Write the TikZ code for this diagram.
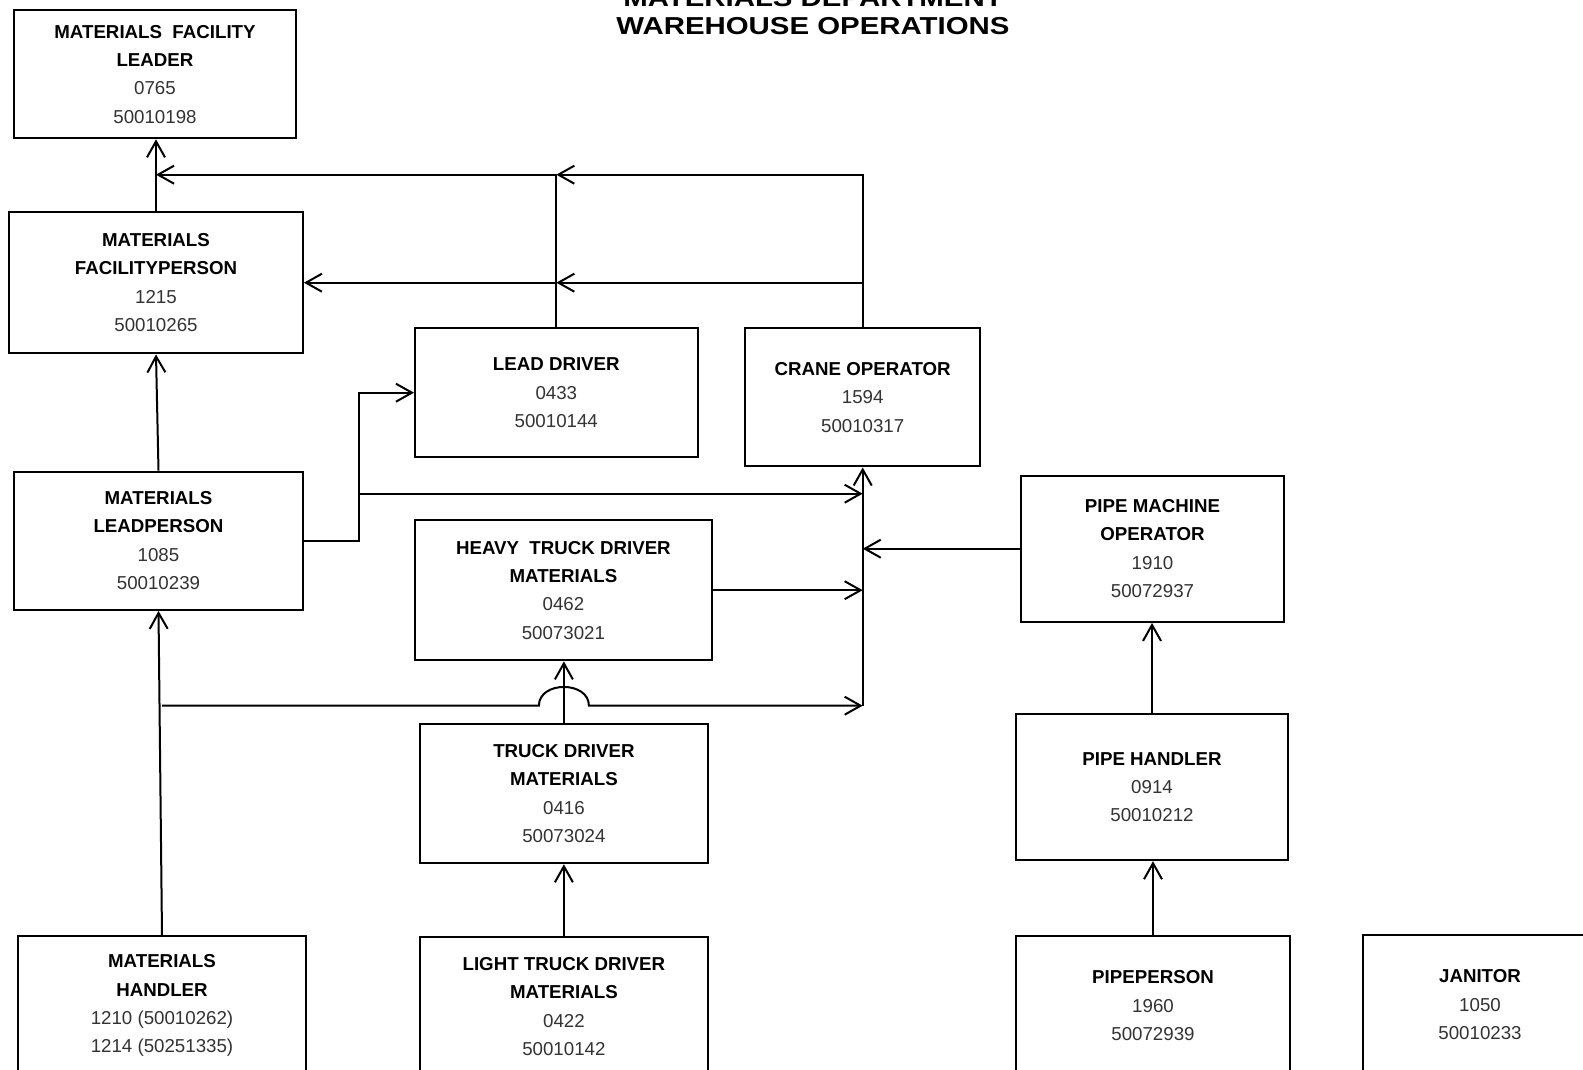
\documentclass[tikz,border=0pt]{standalone}
\usepackage{fontspec}
\setmainfont{Liberation Sans}
\usepackage{graphicx}
\usetikzlibrary{arrows.meta}
\definecolor{numc}{gray}{0.2}
\newcommand{\nm}[1]{{\color{numc}#1}}
\begin{document}
\begin{tikzpicture}[x=1pt,y=-1pt,
  box/.style={draw, line width=2pt, align=center, inner sep=0pt,
    font=\fontsize{18.7}{28.3}\selectfont},
  arr/.style={line width=2pt, -{Straight Barb[length=16pt,width=18pt,line width=2pt]}},
  ttl/.style={inner sep=0pt, anchor=base, font=\fontsize{24.5}{28}\selectfont\bfseries}]
\useasboundingbox (0,0) rectangle (1583,1070);
\clip (0,0) rectangle (1583,1070);
\fill[white] (0,0) rectangle (1583,1070);

% title
\node[ttl] (t1) at (813,7) {\scalebox{1.2}[1]{MATERIALS DEPARTMENT}};
\node[ttl] (t2) at (813,34.5) {\scalebox{1.2}[1]{WAREHOUSE OPERATIONS}};

% boxes
\node[box, minimum width=281.7, minimum height=128.2] (fl) at (155,74.2)
  {\textbf{MATERIALS\ \ FACILITY}\\ \textbf{LEADER}\\ \nm{0765}\\ \nm{50010198}};
\node[box, minimum width=293.8, minimum height=141.4] (fp) at (156,282.7)
  {\textbf{MATERIALS}\\ \textbf{FACILITYPERSON}\\ \nm{1215}\\ \nm{50010265}};
\node[box, minimum width=282.6, minimum height=129.2] (ld) at (556.3,392.7)
  {\textbf{LEAD DRIVER}\\ \nm{0433}\\ \nm{50010144}};
\node[box, minimum width=235.3, minimum height=138.3] (co) at (862.7,397.3)
  {\textbf{CRANE OPERATOR}\\ \nm{1594}\\ \nm{50010317}};
\node[box, minimum width=288.8, minimum height=138.3] (lp) at (158.5,540.7)
  {\textbf{MATERIALS}\\ \textbf{LEADPERSON}\\ \nm{1085}\\ \nm{50010239}};
\node[box, minimum width=296.8, minimum height=140.3] (ht) at (563.4,590.2)
  {\textbf{HEAVY\ \ TRUCK DRIVER}\\ \textbf{MATERIALS}\\ \nm{0462}\\ \nm{50073021}};
\node[box, minimum width=263.5, minimum height=146.4] (pm) at (1152.5,548.7)
  {\textbf{PIPE MACHINE}\\ \textbf{OPERATOR}\\ \nm{1910}\\ \nm{50072937}};
\node[box, minimum width=287.7, minimum height=139.3] (td) at (563.9,793.6)
  {\textbf{TRUCK DRIVER}\\ \textbf{MATERIALS}\\ \nm{0416}\\ \nm{50073024}};
\node[box, minimum width=272.5, minimum height=146.4] (ph) at (1152,787)
  {\textbf{PIPE HANDLER}\\ \nm{0914}\\ \nm{50010212}};
\node[box, minimum width=287.7, minimum height=139.4] (mh) at (162,1005.6)
  {\textbf{MATERIALS}\\ \textbf{HANDLER}\\ \nm{1210 (50010262)}\\ \nm{1214 (50251335)}};
\node[box, minimum width=287.7, minimum height=139.2] (lt) at (563.9,1006.6)
  {\textbf{LIGHT TRUCK DRIVER}\\ \textbf{MATERIALS}\\ \nm{0422}\\ \nm{50010142}};
\node[box, minimum width=274.6, minimum height=139.4] (pp) at (1153,1005.6)
  {\textbf{PIPEPERSON}\\ \nm{1960}\\ \nm{50072939}};
\node[box, minimum width=234, minimum height=139.2] (jn) at (1480,1004.6)
  {\textbf{JANITOR}\\ \nm{1050}\\ \nm{50010233}};

% helper coordinates
\coordinate (topbus) at (0,174.7);
\coordinate (midbus) at (0,282.7);
\coordinate (leadbus) at (0,493.7);
\coordinate (splitx) at (359.4,0);
\coordinate (hbus) at (0,705.7);

% connectors
\draw[arr] (fp.north) -- (fp.north |- fl.south);
\draw[arr] (ld.north) |- (fp.north |- topbus);
\draw[arr] (co.north) |- (ld.north |- topbus);
\draw[arr] (co.north |- midbus) -- (ld.north |- midbus);
\draw[arr] (ld.north |- midbus) -- (fp.east);
\draw[arr] (lp.north) -- (fp.south);
\draw[arr] (lp.east) -- (lp.east -| splitx) |- (ld.west);
\draw[arr] (splitx |- leadbus) -- (co.south |- leadbus);
\draw[arr] (co.south |- hbus) -- (co.south);
\draw[arr] (ht.east) -- (ht.east -| co.south);
\draw[arr] (pm.west) -- (pm.west -| co.south);
\draw[arr] (mh.north) -- (lp.south);
\coordinate (hopL) at ([xshift=-25pt]td.north |- hbus);
\coordinate (hopR) at ([xshift=25pt]td.north |- hbus);
\draw[arr] (mh.north |- hbus) -- (hopL) .. controls ([yshift=25pt]hopL) and ([yshift=25pt]hopR) .. (hopR) -- (co.south |- hbus);
\draw[arr] (td.north) -- (td.north |- ht.south);
\draw[arr] (lt.north) -- (td.south);
\draw[arr] (pp.north) -- (pp.north |- ph.south);
\draw[arr] (ph.north) -- (ph.north |- pm.south);
\end{tikzpicture}
\end{document}
